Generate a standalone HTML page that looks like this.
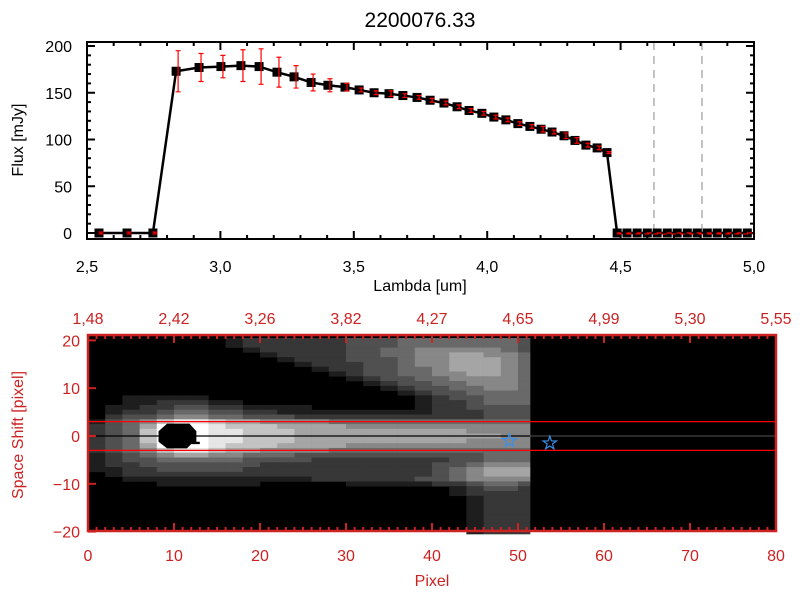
<!DOCTYPE html>
<html><head><meta charset="utf-8">
<style>
html,body{margin:0;padding:0;background:#fff;}
svg{display:block;font-family:"Liberation Sans",sans-serif;}
</style></head>
<body>
<svg id="c" width="800" height="600" viewBox="0 0 800 600">
<rect width="800" height="600" fill="#fff"/>
<text x="420" y="27" font-size="21" text-anchor="middle" fill="#000">2200076.33</text>
<g id="topPanel"></g>
<g id="botPanel"></g>
</svg>
<script>
const lambdas = [2.545,2.650,2.747,2.834,2.920,3.002,3.077,3.145,3.212,3.276,3.340,3.403,3.467,3.520,3.576,3.632,3.684,3.737,3.786,3.838,3.887,3.932,3.980,4.025,4.070,4.115,4.160,4.202,4.243,4.288,4.329,4.370,4.412,4.449,4.487,4.524,4.562,4.600,4.637,4.675,4.712,4.750,4.787,4.825,4.862,4.900,4.937,4.975];
const fluxes = [0,0,0,173,177,178,179,178,172,167,161,158,156,153,150,149,147,145,142,139,135,131,128,124,121,117,114,111,108,104,99,94,91,86,0,0,0,0,0,0,0,0,0,0,0,0,0,0];
const errors = [1,1,1,22,15,12,17,19,16,12,9,7,4,2,2,3,2,2,2,2,2,2,2,2,2,2,2,3,2,3,3,2,2,1,0,0,0,0,0,0,0,0,0,0,0,0,0,0];
const xTicks = ["2.5","3.0","3.5","4.0","4.5","5.0"];
const yTicks = ["0","50","100","150","200"];
const vLines = [4.625,4.805];

const topAxisLabels = ["1.48","2.42","3.26","3.82","4.27","4.65","4.99","5.30","5.55"];
const botXTicks = ["0","10","20","30","40","50","60","70","80"];
const botYTicks = ["20","10","0","-10","-20"];
const imgRows = [
"00000000122222233344444443",
"00000000122222233344444443",
"00000000012222233445555543",
"00000000001222233445566554",
"00000000000122233345566654",
"00000000000012223345566654",
"00000000000001223344566654",
"00000000000000123344556654",
"00000000000000012334455554",
"00000000000000001233445554",
"00000000000000000123344554",
"00000000000000000012334444",
"00111110000000000001233444",
"00112221100000000001223444",
"01122332211110000001223333",
"01223443322111111111222333",
"02334554433322222222222333",
"13457887665555444444444444",
"23469998777666655555555555",
"23479998877766666666665555",
"23479998877766666666666655",
"23479998877766666666665555",
"23469998777666655555555555",
"23457887665555444444444444",
"12345665544433333333333444",
"12334444433332222222233444",
"12233333332222222222334555",
"11223333322222222222345666",
"01222222222222222222345666",
"00111111111112222223345555",
"00001111110000011111223443",
"00000000000000000000012332",
"00000000000000000000012222",
"00000000000000000000001222",
"00000000000000000000001222",
"00000000000000000000001222",
"00000000000000000000001222",
"00000000000000000000001222",
"00000000000000000000001222",
"00000000000000000000001222",
"00000000000000000000001222"];
const starPixels = [49, 53.7];
const starShifts = [-1, -1.5];
const bandShifts = [3, -3];

const NS="http://www.w3.org/2000/svg";
function mk(tag, attrs, parent){const e=document.createElementNS(NS,tag);for(const k in attrs)e.setAttribute(k,attrs[k]);parent.appendChild(e);return e;}

const T={l:87,r:754,t:42,b:239};
const sx=v=>T.l+(v-2.5)/2.5*(T.r-T.l);
const sy=v=>233-(v)*0.935;
const topG=document.getElementById('topPanel');
for(let i=0;i<=25;i++){const x=sx(2.5+i*0.1);const L=(i%5===0)?8:4;
 let e=mk('line',{x1:x,x2:x,y1:T.b,y2:T.b-L,stroke:'#000','stroke-width':2},topG);
 
 
 e=mk('line',{x1:x,x2:x,y1:T.t,y2:T.t+L,stroke:'#000','stroke-width':2},topG);
 
 }
for(let i=0;i<=20;i++){const y=sy(i*10);if(y<T.t)continue;const L=(i%5===0)?8:4;
 let e=mk('line',{x1:T.l,x2:T.l+L,y1:y,y2:y,stroke:'#000','stroke-width':2},topG);
 
 
 e=mk('line',{x1:T.r,x2:T.r-L,y1:y,y2:y,stroke:'#000','stroke-width':2},topG);
 
 }
xTicks.forEach(s=>{const e=mk('text',{x:sx(parseFloat(s)),y:272,'font-size':16,'text-anchor':'middle'},topG);e.textContent=s.replace('.',',');
 
 });
yTicks.forEach(s=>{const e=mk('text',{x:72,y:sy(parseFloat(s))+6,'font-size':16,'text-anchor':'end'},topG);e.textContent=s;
 
 });
let lbl=mk('text',{x:420,y:291,'font-size':16,'text-anchor':'middle'},topG);lbl.textContent='Lambda [um]';


lbl=mk('text',{x:0,y:0,'font-size':16,'text-anchor':'middle',transform:'translate(23,140) rotate(-90)'},topG);lbl.textContent='Flux [mJy]';


vLines.forEach(v=>{const e=mk('line',{x1:sx(v),x2:sx(v),y1:T.t,y2:T.b,stroke:'#888',"stroke-width":1,'stroke-dasharray':'8,6'},topG);
 
 });
const pl=mk('polyline',{points:lambdas.map((l,i)=>sx(l)+','+sy(fluxes[i])).join(' '),fill:'none',stroke:'#000','stroke-width':2.5},topG);


lambdas.forEach((l,i)=>{const x=sx(l),y=sy(fluxes[i]);
 const m=mk('rect',{x:x-4.5,y:y-4.5,width:9,height:9,fill:'#000'},topG);
 
 
 const er=errors[i];const y1=sy(fluxes[i]+er),y2=sy(fluxes[i]-er);const ex=x+2;
 const g=mk('path',{d:`M${ex},${y1}V${y2}M${ex-2.5},${y1}H${ex+2.5}M${ex-2.5},${y2}H${ex+2.5}`,stroke:'#f00','stroke-width':1.2,fill:'none'},topG);
 
 });
const rd=mk('line',{x1:sx(lambdas[34]),x2:T.r,y1:sy(0)+1,y2:sy(0)+1,stroke:'#f00','stroke-width':1,'stroke-dasharray':'5,4'},topG);


const fr=mk('rect',{x:T.l,y:T.t,width:T.r-T.l,height:T.b-T.t,fill:'none',stroke:'#000','stroke-width':2},topG);



const B={l:88,r:776,t:335,b:531};
const bx=p=>B.l+p*(B.r-B.l)/80;
const by=v=>436-v*4.78;
const RED='#cc2222';
const botG=document.getElementById('botPanel');
const bg=mk('rect',{x:B.l,y:B.t,width:B.r-B.l,height:B.b-B.t,fill:'#000'},botG);


const shades=[0,30,55,80,105,135,165,195,230,255];
imgRows.forEach((row,ri)=>{const v=20-ri;
 for(let k=0;k<row.length;k++){const val=+row[k];if(!val)continue;
  const x0=bx(2*k),x1=Math.min(bx(2*k+2),bx(51.4));const g=shades[val];
  const c=mk('rect',{x:x0,y:by(v+0.5),width:x1-x0+0.3,height:5.1,fill:`rgb(${g},${g},${g})`},botG);
  
  }});
const blob=mk('path',{d:`M${bx(8.2)},${by(1)}L${bx(9.2)},${by(2.6)}H${bx(11.8)}L${bx(12.6)},${by(1)}V${by(-1.2)}H${bx(13)}V${by(-1.7)}H${bx(12)}L${bx(11.5)},${by(-2.6)}H${bx(9.2)}L${bx(8.2)},${by(-1.2)}Z`,fill:'#000'},botG);


const zl=mk('line',{x1:B.l,x2:bx(51.4),y1:by(0),y2:by(0),stroke:'#000','stroke-width':1.2},botG);


const zl2=mk('line',{x1:bx(51.4),x2:B.r,y1:by(0),y2:by(0),stroke:'#555','stroke-width':1},botG);


bandShifts.forEach(v=>{const e=mk('line',{x1:B.l,x2:B.r,y1:by(v),y2:by(v),stroke:'#f00','stroke-width':1.3},botG);
 
 });
starPixels.forEach((p,i)=>{const cx=bx(p),cy=by(starShifts[i]);let d='';
 for(let j=0;j<10;j++){const r=j%2?2.8:7;const a=-Math.PI/2+j*Math.PI/5;d+=(j?'L':'M')+(cx+r*Math.cos(a)).toFixed(1)+','+(cy+r*Math.sin(a)).toFixed(1);}
 const s=mk('path',{d:d+'Z',fill:'none',stroke:'#3a8fe8','stroke-width':1.2},botG);
 
 });
for(let p=0;p<=80;p++){const x=bx(p);const L=p%10===0?8:4;
 let e=mk('line',{x1:x,x2:x,y1:B.b,y2:B.b-L,stroke:RED,'stroke-width':2},botG);
 
 
 e=mk('line',{x1:x,x2:x,y1:B.t,y2:B.t+L,stroke:RED,'stroke-width':2},botG);
 
 }
for(let v=-20;v<=20;v+=10){const y=by(v);
 const e=mk('line',{x1:B.l,x2:B.l+8,y1:y,y2:y,stroke:RED,'stroke-width':2},botG);
 
 }
const bf=mk('rect',{x:B.l,y:B.t,width:B.r-B.l,height:B.b-B.t,fill:'none',stroke:RED,'stroke-width':2.5},botG);


botXTicks.forEach(s=>{const e=mk('text',{x:bx(+s),y:561,'font-size':16,'text-anchor':'middle',fill:RED},botG);e.textContent=s;
 
 });
topAxisLabels.forEach((s,i)=>{const e=mk('text',{x:bx(i*10),y:324,'font-size':16,'text-anchor':'middle',fill:RED},botG);e.textContent=s.replace('.',',');
 
 });
botYTicks.forEach(s=>{const e=mk('text',{x:80,y:by(+s)+6,'font-size':16,'text-anchor':'end',fill:RED},botG);e.textContent=s.replace('-','\u2212');
 
 });
lbl=mk('text',{x:432,y:586,'font-size':16,'text-anchor':'middle',fill:RED},botG);lbl.textContent='Pixel';


lbl=mk('text',{x:0,y:0,'font-size':16,'text-anchor':'middle',fill:RED,transform:'translate(23,435) rotate(-90)'},botG);lbl.textContent='Space Shift [pixel]';


</script>
</body></html>
